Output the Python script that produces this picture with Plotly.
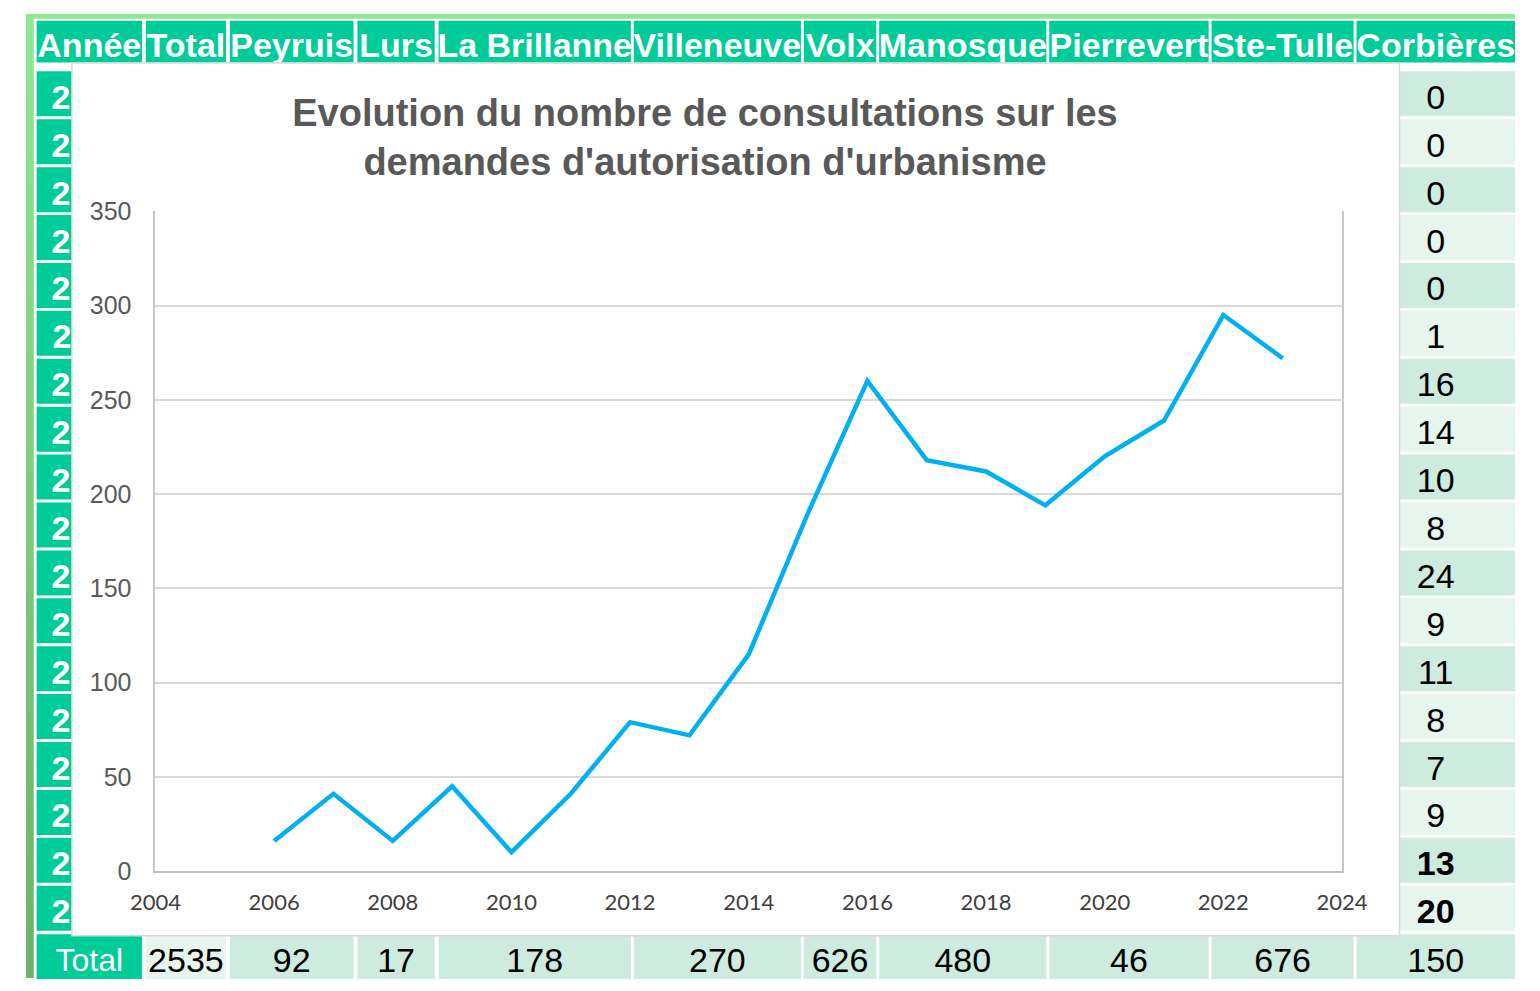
import plotly.graph_objects as go

W, H = 1540, 991

# data
years = list(range(2006, 2024))
consultations = [16, 41, 16, 45, 10, 41, 79, 72, 115, 190, 260, 218, 212, 194, 220, 239, 295, 272]
corbieres = [0, 0, 0, 0, 0, 1, 16, 14, 10, 8, 24, 9, 11, 8, 7, 9, 13, 20]
headers = ["Année", "Total", "Peyruis", "Lurs", "La Brillanne", "Villeneuve",
           "Volx", "Manosque", "Pierrevert", "Ste-Tulle", "Corbières"]
total_row = [2535, 92, 17, 178, 270, 626, 480, 46, 676, 150]

TITLE = "Evolution du nombre de consultations sur les<br>demandes d'autorisation d'urbanisme"

SHEET_FONT = "Liberation Sans, Arial, sans-serif"
TEAL = "#00cc99"
ROW_DARK = "#cdebdf"
ROW_LIGHT = "#e6f5ee"

# spreadsheet column edges (pixels)
col_edges = [(11, 120), (124, 207), (211, 339), (343, 423), (427, 626), (629, 802),
             (805, 880), (883, 1056), (1059, 1224), (1227, 1374), (1377, 1541)]
row_top, row_step = 57.5, 49.3

shapes = []


def rect(x0, y0, x1, y1, fill, text=None, size=34, color="white", bold=False, line=None):
    s = dict(type="rect", xref="paper", yref="paper",
             x0=x0 / W, x1=x1 / W, y0=1 - y1 / H, y1=1 - y0 / H,
             fillcolor=fill, layer="below")
    if line:
        s["line"] = dict(color=line, width=1.5)
    else:
        s["line"] = dict(width=0)
    if text is not None:
        s["label"] = dict(text=str(text), textposition="middle center", padding=0,
                          font=dict(family=SHEET_FONT, size=size, color=color,
                                    weight="bold" if bold else "normal"))
    shapes.append(s)


# green frame of the sheet
rect(0, 0, W + 1, 5, "#8fe88f")
steps = 40
for i in range(steps):
    t = i / (steps - 1)
    c = (int(143 + (108 - 143) * t), int(232 + (178 - 232) * t), int(143 + (108 - 143) * t))
    rect(0, i * H / steps, 8, (i + 1) * H / steps + 1, "rgb(%d,%d,%d)" % c)

# header row
for (x0, x1), name in zip(col_edges, headers):
    rect(x0, 7, x1, 50, TEAL, name, size=34, bold=True)

# year rows: first column and Corbières column
for i, (yr, val) in enumerate(zip(years, corbieres)):
    y0 = row_top + row_step * i + 1.5
    y1 = row_top + row_step * (i + 1) - 1.5
    rect(col_edges[0][0], y0, col_edges[0][1], y1, TEAL, yr, bold=True)
    fill = ROW_DARK if i % 2 == 0 else ROW_LIGHT
    rect(col_edges[-1][0], y0, col_edges[-1][1], y1, fill, val, color="black",
         bold=i >= len(years) - 2)

# total row
rect(col_edges[0][0], 947, col_edges[0][1], H + 2, TEAL, "Total", size=32)
for j, ((x0, x1), val) in enumerate(zip(col_edges[1:], total_row)):
    rect(x0, 947, x1, H + 2, ROW_LIGHT if j == 0 else ROW_DARK, val, color="black")

# chart box on top of the sheet
rect(47.5, 50.5, 1421.5, 948.5, "white", line="#d9d9d9")

fig = go.Figure()
fig.add_trace(go.Scatter(
    x=years, y=consultations, mode="lines",
    line=dict(color="#00b0f0", width=4.5),
    hoverinfo="skip", showlegend=False,
))

fig.update_layout(
    # 8px body margin on each side -> fits the window; resized to full size below
    width=W - 16, height=H - 16,
    margin=dict(l=0, r=0, t=0, b=0),
    paper_bgcolor="white",
    plot_bgcolor="white",
    shapes=shapes,
    title=dict(text=TITLE, x=705 / W, xanchor="center", y=1 - 125.5 / H, yanchor="middle",
               font=dict(family="Liberation Sans, Arial, sans-serif", size=38,
                         color="#595959", weight="bold")),
    xaxis=dict(domain=[134 / W, 1362 / W], range=[2004, 2024], dtick=2, tick0=2004,
               showgrid=False, zeroline=False, showline=True, linecolor="#bfbfbf",
               linewidth=2, ticks="", ticklabelstandoff=11,
               tickfont=dict(family="Lato, Open Sans, sans-serif", size=22, color="#404040")),
    yaxis=dict(domain=[1 - 882 / H, 1 - 203 / H], range=[0, 350], dtick=50,
               showgrid=True, gridcolor="#d9d9d9", gridwidth=2, zeroline=False,
               showline=True, linecolor="#c8c8c8", linewidth=2, mirror=True, ticks="",
               ticklabelstandoff=17,
               tickfont=dict(family="Liberation Sans, Arial, sans-serif", size=25, color="#595959")),
)

fit = """
document.body.style.margin = '0';
Plotly.relayout(document.getElementById('{plot_id}'), {width: %d, height: %d});
""" % (W, H)
fig.write_html("out.html", config={"displayModeBar": False}, post_script=fit)
